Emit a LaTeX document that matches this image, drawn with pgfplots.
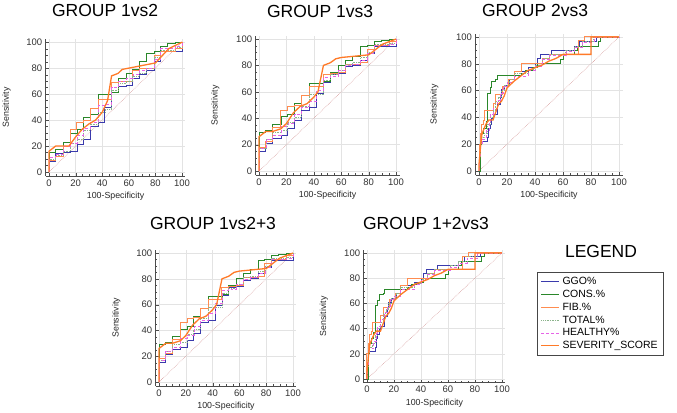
\documentclass[border=0pt]{standalone}
\usepackage{fontspec}
\setmainfont{Liberation Sans}
\usepackage{pgfplots}
\pgfplotsset{compat=1.18}

\definecolor{cggo}{RGB}{58,58,172}
\definecolor{ccons}{RGB}{42,135,42}
\definecolor{cfib}{RGB}{255,140,80}
\definecolor{ctot}{RGB}{140,180,140}
\definecolor{cheal}{RGB}{230,100,230}
\definecolor{csev}{RGB}{255,122,40}
\definecolor{cdiag}{RGB}{215,160,160}

\pgfplotsset{
  roc/.style={
    scale only axis,
    xmin=-2.5, xmax=102.5, ymin=-3, ymax=102.5,
    axis lines*=left, axis line style={-, gray!60!black, line width=0.8pt},
    tick align=inside,
    xtick={0,20,...,100}, ytick={0,20,...,100}, minor tick num=3,
    tick style={gray!60!black}, major tick length=3bp, minor tick length=1.8bp,
    grid=major, grid style={gray!22, line width=0.5pt},
    tick label style={font=\fontsize{9.5bp}{11bp}\selectfont, text=black!80},
    /pgf/number format/assume math mode=true,
    xlabel={100-Specificity}, ylabel={Sensitivity},
    label style={font=\fontsize{8.8bp}{10bp}\selectfont, text=black!85},
    xlabel style={at={(axis description cs:0.5,0)}, anchor=center, yshift=-20bp},
    ylabel style={at={(axis description cs:-0.28,0.5)}, anchor=center},
    clip=false,
  },
  ggo/.style={const plot, draw=cggo, line width=0.9bp, no marks},
  cons/.style={const plot, draw=ccons, line width=0.9bp, no marks},
  fib/.style={const plot, draw=cfib, line width=1bp, no marks},
  tot/.style={const plot, draw=ctot, densely dotted, line width=0.7bp, no marks},
  heal/.style={const plot, draw=cheal, densely dashed, line width=0.6bp, no marks},
  sev/.style={sharp plot, draw=csev, line width=1.3bp, no marks},
  diag/.style={sharp plot, draw=cdiag, densely dotted, line width=0.6bp, no marks, forget plot},
}

% GROUP 1vs2
\newcommand{\plotsA}{%
  \addplot[diag] coordinates {(0,0)(100,100)};
  \addplot[ggo] coordinates {(0,0)(0,8)(5,14)(11,15)(16,16)(21,21)(26,25)(31,35)(37,38)(42,50)(47,61)(52,66)(58,67)(63,72)(68,75)(73,78)(79,85)(84,93)(100,100)};
  \addplot[cons] coordinates {(0,0)(0,15)(5,17)(11,23)(16,30)(21,33)(26,42)(31,44)(37,60)(47,61)(52,72)(58,76)(63,79)(68,85)(73,91)(79,93)(84,97)(89,99)(95,100)(100,100)};
  \addplot[fib] coordinates {(0,0)(0,9)(5,12)(11,20)(16,33)(21,38)(26,40)(31,49)(37,56)(47,69)(52,70)(63,78)(68,80)(73,80)(79,90)(84,93)(95,95)(100,100)};
  \addplot[tot] coordinates {(0,0)(0,10)(5,13)(11,16)(16,22)(21,25)(26,32)(31,37)(37,46)(42,48)(47,63)(52,68)(58,70)(63,74)(68,76)(73,80)(79,88)(84,94)(95,96)(100,100)};
  \addplot[heal] coordinates {(0,0)(0,11)(5,14)(11,20)(16,22)(21,28)(26,34)(31,38)(37,51)(42,52)(47,65)(52,70)(58,72)(63,75)(68,78)(73,80)(79,87)(84,95)(95,97)(100,100)};
  \addplot[sev] coordinates {(0,0)(0,16)(5,20)(15,20)(20,27)(25,33)(30,37)(35,40)(40,46)(44,55)(47,74)(52,76)(55,79)(60,80)(70,82)(80,84)(90,95)(100,100)};
}

% GROUP 1vs3 and GROUP 1vs2+3
\newcommand{\plotsB}{%
  \addplot[diag] coordinates {(0,0)(100,100)};
  \addplot[ggo] coordinates {(0,0)(0,15)(5,21)(10,25)(16,27)(21,32)(26,38)(31,46)(37,48)(42,59)(47,67)(52,73)(58,74)(63,79)(68,80)(74,84)(79,89)(84,94)(100,100)};
  \addplot[cons] coordinates {(0,0)(0,29)(5,31)(10,35)(16,41)(21,43)(26,51)(31,57)(37,66)(47,68)(52,75)(58,80)(63,84)(68,87)(74,94)(79,95)(84,98)(89,99)(95,100)(100,100)};
  \addplot[fib] coordinates {(0,0)(0,18)(5,22)(10,33)(16,46)(21,49)(26,50)(31,57)(37,64)(47,73)(52,74)(58,75)(63,81)(74,82)(79,92)(84,95)(95,98)(100,100)};
  \addplot[tot] coordinates {(0,0)(0,17)(5,24)(10,29)(16,31)(21,37)(26,41)(31,49)(37,58)(47,69)(52,73)(58,76)(63,81)(68,82)(74,86)(79,90)(84,96)(95,97)(100,100)};
  \addplot[heal] coordinates {(0,0)(0,17)(5,24)(10,27)(16,34)(21,36)(26,43)(31,48)(37,53)(42,61)(47,71)(52,72)(58,76)(63,80)(68,81)(74,84)(79,89)(84,95)(95,96)(100,100)};
  \addplot[sev] coordinates {(0,0)(0,26)(5,30)(10,30)(16,32)(20,36)(25,44)(30,49)(35,51)(40,56)(43,60)(45,70)(47,80)(52,82)(56,85)(60,86)(70,87)(80,88)(90,96)(100,100)};
}

% GROUP 2vs3 and GROUP 1+2vs3
\newcommand{\plotsC}{%
  \addplot[diag] coordinates {(0,0)(100,100)};
  \addplot[ggo] coordinates {(0,0)(0,4)(1,20)(2,22)(6,25)(7,32)(8,35)(9,39)(10,42)(13,50)(15,55)(16,61)(18,64)(22,68)(25,74)(35,77)(40,80)(42,84)(44,87)(52,90)(68,93)(72,97)(84,100)(100,100)};
  \addplot[cons] coordinates {(0,0)(1,20)(2,28)(3,32)(5,37)(6,58)(8,62)(9,67)(12,68)(13,71)(30,73)(33,75)(38,77)(42,80)(58,83)(60,87)(68,90)(70,93)(85,97)(87,100)(100,100)};
  \addplot[fib] coordinates {(0,0)(0,20)(1,28)(2,35)(3,38)(4,45)(10,50)(12,57)(17,63)(21,68)(25,74)(30,80)(40,80)(45,84)(50,87)(70,87)(71,97)(75,100)(100,100)};
  \addplot[tot] coordinates {(0,0)(0,10)(1,21)(2,25)(4,28)(6,35)(8,40)(10,45)(12,52)(14,55)(16,60)(18,64)(22,68)(25,73)(35,76)(40,79)(45,84)(50,87)(62,90)(68,93)(74,97)(82,100)(100,100)};
  \addplot[heal] coordinates {(0,0)(0,12)(1,21)(2,24)(5,30)(7,36)(8,42)(10,47)(13,53)(15,58)(17,63)(20,66)(25,71)(35,75)(40,78)(45,83)(50,86)(62,89)(68,92)(74,96)(82,100)(100,100)};
  \addplot[sev] coordinates {(0,0)(0,5)(1,17)(2,27)(3,30)(5,35)(7,38)(10,38)(12,44)(14,50)(16,52)(18,56)(20,62)(25,67)(30,71)(35,75)(40,77)(45,79)(50,82)(55,84)(60,87)(80,87)(80,100)(100,100)};
}

\newcommand{\ttl}{\fontsize{17.5bp}{20bp}\selectfont}

\begin{document}
\begin{tikzpicture}
\useasboundingbox (0,0) rectangle (677bp,-413bp);

\node[anchor=base, font=\ttl] at (105bp,-16.7bp) {GROUP 1vs2};
\node[anchor=base, font=\ttl] at (320bp,-17.3bp) {GROUP 1vs3};
\node[anchor=base, font=\ttl] at (535bp,-16bp) {GROUP 2vs3};
\node[anchor=base, font=\ttl] at (213bp,-229.3bp) {GROUP 1vs2+3};
\node[anchor=base, font=\ttl] at (426bp,-229.3bp) {GROUP 1+2vs3};
\node[anchor=base, font=\ttl] at (601bp,-257.5bp) {LEGEND};

\begin{axis}[roc, at={(45.7bp,-175.9bp)}, anchor=south west, width=139.7bp, height=137bp]
\plotsA
\end{axis}

\begin{axis}[roc, at={(255.6bp,-175bp)}, anchor=south west, width=143.9bp, height=139.3bp]
\plotsB
\end{axis}

\begin{axis}[roc, at={(475.5bp,-175bp)}, anchor=south west, width=147bp, height=141.4bp]
\plotsC
\end{axis}

\begin{axis}[roc, at={(155.65bp,-385.9bp)}, anchor=south west, width=140.7bp, height=136.1bp]
\plotsB
\end{axis}

\begin{axis}[roc, at={(363.6bp,-382.8bp)}, anchor=south west, width=141.75bp, height=133bp,
  legend image code/.code={\draw[#1] (0bp,0bp) -- (18bp,0bp);},
  legend cell align=left,
  legend style={at={(axis description cs:1.223,0.833)}, anchor=north west,
    draw=gray!55!black, line width=0.6pt, font=\fontsize{10.5bp}{12bp}\selectfont,
    row sep=0bp, inner xsep=3.5bp, inner ysep=3bp,
    nodes={inner xsep=2.5bp}}]
\plotsC
\legend{GGO\%, CONS.\%, FIB.\%, TOTAL\%, HEALTHY\%, SEVERITY\_SCORE}
\end{axis}
\end{tikzpicture}
\end{document}
